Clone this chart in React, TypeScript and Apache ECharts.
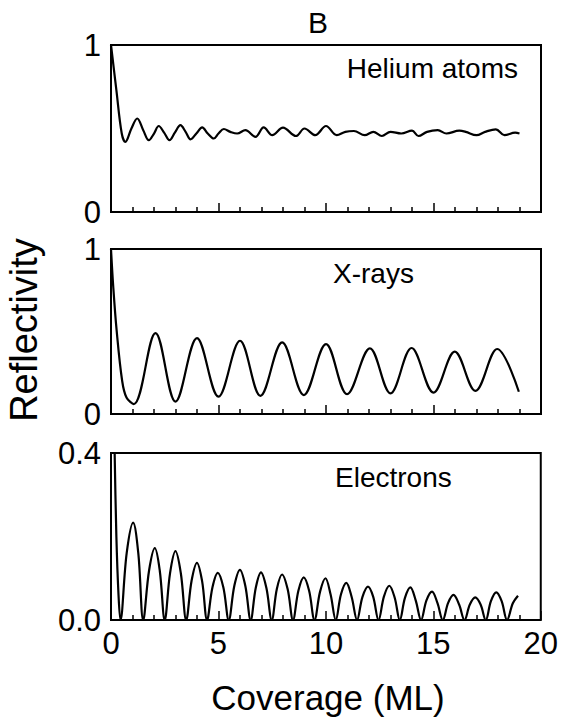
import React, { useEffect, useRef } from "react";
import * as echarts from "echarts";

// Coverage (ML) vs reflectivity
const heliumData: [number, number][] = [
  [0, 1.0], [0.25, 0.73], [0.5, 0.47], [0.67, 0.42], [0.95, 0.5], [1.22, 0.56], [1.5, 0.49],
  [1.76, 0.43], [2.0, 0.47], [2.22, 0.515], [2.47, 0.475], [2.72, 0.43], [2.97, 0.475],
  [3.23, 0.52], [3.47, 0.48], [3.7, 0.435], [3.97, 0.47], [4.24, 0.507], [4.5, 0.47],
  [4.78, 0.44], [5.0, 0.47], [5.25, 0.497], [5.55, 0.48], [5.87, 0.47], [6.25, 0.49],
  [6.72, 0.45], [7.1, 0.507], [7.5, 0.46], [8.0, 0.505], [8.6, 0.455], [9.0, 0.5],
  [9.5, 0.46], [10.0, 0.515], [10.5, 0.46], [10.9, 0.48], [11.3, 0.485], [11.8, 0.46],
  [12.2, 0.48], [12.6, 0.455], [13.0, 0.48], [13.5, 0.47], [14.0, 0.487], [14.3, 0.455],
  [14.7, 0.48], [15.2, 0.49], [15.6, 0.47], [16.2, 0.487], [16.5, 0.48], [17.0, 0.46],
  [17.4, 0.48], [17.9, 0.495], [18.3, 0.46], [18.8, 0.475], [19.0, 0.47],
];

const xrayData: [number, number][] = [
  [0, 1.0], [0.1, 0.78], [0.26, 0.51], [0.52, 0.2], [0.72, 0.1], [1.06, 0.06],
  [2.07, 0.49], [3.0, 0.075], [4.0, 0.46], [5.0, 0.105], [6.0, 0.444], [6.95, 0.11],
  [7.96, 0.434], [8.97, 0.115], [10.0, 0.424], [10.98, 0.12], [12.04, 0.398], [13.0, 0.125],
  [13.98, 0.4], [15.0, 0.13], [15.99, 0.378], [16.95, 0.14], [17.96, 0.394], [18.97, 0.135],
];

const electronData: [number, number][] = [
  [0.1, 0.6], [0.17, 0.4], [0.25, 0.2], [0.35, 0.06], [0.44, 0],
  [0.73, 0.16], [1.03, 0.233], [1.27, 0.16], [1.5, 0],
  [1.77, 0.118], [2.04, 0.172], [2.27, 0.118], [2.5, 0],
  [2.75, 0.113], [3.0, 0.165], [3.25, 0.112], [3.5, 0],
  [3.75, 0.094], [4.0, 0.137], [4.24, 0.093], [4.47, 0],
  [4.72, 0.078], [4.97, 0.113], [5.23, 0.078], [5.48, 0],
  [5.74, 0.082], [6.0, 0.12], [6.25, 0.082], [6.5, 0],
  [6.74, 0.078], [6.98, 0.114], [7.23, 0.077], [7.48, 0],
  [7.72, 0.075], [7.96, 0.109], [8.22, 0.074], [8.47, 0],
  [8.72, 0.07], [8.97, 0.102], [9.22, 0.07], [9.47, 0],
  [9.73, 0.068], [9.98, 0.1], [10.22, 0.061], [10.46, 0],
  [10.7, 0.061], [10.95, 0.089], [11.2, 0.055], [11.45, 0],
  [11.7, 0.055], [11.96, 0.08], [12.2, 0.056], [12.45, 0],
  [12.7, 0.056], [12.95, 0.082], [13.2, 0.054], [13.44, 0],
  [13.68, 0.053], [13.93, 0.078], [14.18, 0.047], [14.43, 0],
  [14.68, 0.047], [14.94, 0.068], [15.19, 0.041], [15.44, 0],
  [15.69, 0.041], [15.94, 0.06], [16.2, 0.037], [16.45, 0],
  [16.7, 0.037], [16.95, 0.054], [17.2, 0.037], [17.44, 0],
  [17.68, 0.045], [17.93, 0.066], [18.18, 0.045], [18.43, 0],
  [18.7, 0.04], [18.94, 0.058],
];

const xTickLabels = ["0", "5", "10", "15", "20"];
const panelLabels = ["Helium atoms", "X-rays", "Electrons"];
const yMax = [1, 1, 0.4];

const FONT = "Liberation Sans, Arial, sans-serif";

export default function App() {
  const ref = useRef<HTMLDivElement>(null);
  useEffect(() => {
    document.body.style.margin = "0";
    const chart = echarts.init(ref.current!, null, { renderer: "svg" });
    const grids = [
      { left: 111, top: 45, width: 430, height: 167 },
      { left: 111, top: 249, width: 430, height: 165 },
      { left: 111, top: 453, width: 430, height: 167 },
    ];
    const datas = [heliumData, xrayData, electronData];
    const option: any = {
      animation: false,
      backgroundColor: "#fff",
      grid: grids.map((g) => ({ ...g, show: true, borderColor: "#000", borderWidth: 2, backgroundColor: "transparent" })),
      xAxis: grids.map((_, i) => ({
        type: "value",
        gridIndex: i,
        min: 0,
        max: 20,
        interval: 5,
        axisLine: { show: false },
        axisTick: { show: true, inside: true, length: 9, lineStyle: { color: "#000", width: 1.5 } },
        minorTick: { show: true, splitNumber: 5, length: 5, lineStyle: { color: "#000", width: 1.5 } },
        splitLine: { show: false },
        axisLabel: {
          show: i === 2,
          fontSize: 31,
          fontFamily: FONT,
          color: "#000",
          margin: 8,
          formatter: (v: number) => xTickLabels[Math.round(v / 5)] ?? "",
        },
      })),
      yAxis: grids.map((_, i) => ({
        type: "value",
        gridIndex: i,
        min: 0,
        max: yMax[i],
        interval: yMax[i],
        axisLine: { show: false },
        axisTick: { show: false },
        splitLine: { show: false },
        axisLabel: {
          fontSize: 31,
          fontFamily: FONT,
          color: "#000",
          margin: 10,
          formatter: (v: number) => (i === 2 ? v.toFixed(1) : String(v)),
        },
      })),
      series: datas.map((d, i) => ({
        type: "line",
        xAxisIndex: i,
        yAxisIndex: i,
        data: d,
        showSymbol: false,
        smooth: 0.36,
        clip: true,
        lineStyle: { color: "#000", width: 2.2 },
      })),
      graphic: [
        { type: "text", x: 318, y: 22, style: { text: "B", font: `30px ${FONT}`, fill: "#000", textAlign: "center", textVerticalAlign: "middle" } },
        { type: "text", x: 518, y: 68, style: { text: panelLabels[0], font: `28px ${FONT}`, fill: "#000", textAlign: "right", textVerticalAlign: "middle" } },
        { type: "text", x: 333, y: 273, style: { text: panelLabels[1], font: `28px ${FONT}`, fill: "#000", textAlign: "left", textVerticalAlign: "middle" } },
        { type: "text", x: 335, y: 477, style: { text: panelLabels[2], font: `28px ${FONT}`, fill: "#000", textAlign: "left", textVerticalAlign: "middle" } },
        { type: "text", x: 24, y: 330, rotation: Math.PI / 2, style: { text: "Reflectivity", font: `38px ${FONT}`, fill: "#000", textAlign: "center", textVerticalAlign: "middle" } },
        { type: "text", x: 328, y: 697, style: { text: "Coverage (ML)", font: `35px ${FONT}`, fill: "#000", textAlign: "center", textVerticalAlign: "middle" } },
      ],
    };
    chart.setOption(option);
    return () => chart.dispose();
  }, []);
  return <div ref={ref} style={{ width: 561, height: 721 }} />;
}
